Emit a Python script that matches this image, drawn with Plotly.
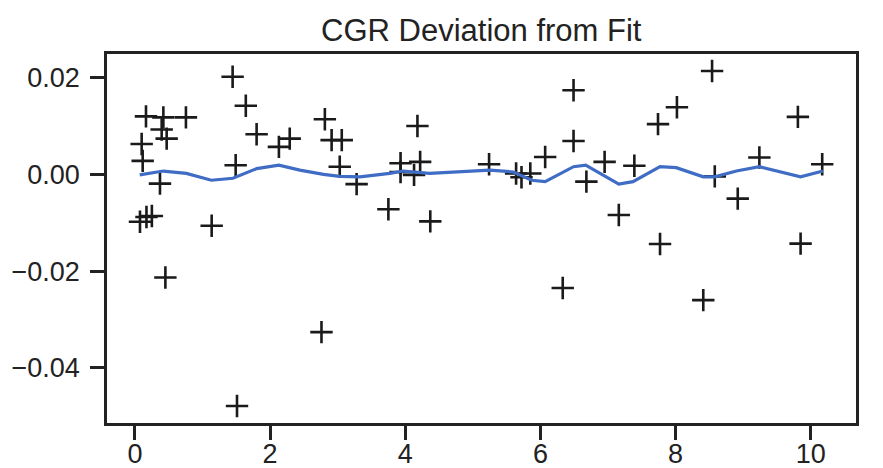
import plotly.graph_objects as go

# Scatter: deviation of each observation from the fit
pts_x = [0.074, 0.099, 0.114, 0.163, 0.17, 0.25, 0.37, 0.395, 0.42, 0.45, 0.469, 0.754,
         1.135, 1.445, 1.49, 1.51, 1.64, 1.80, 2.13, 2.29, 2.76, 2.81, 2.91, 3.03, 3.06,
         3.28, 3.75, 3.93, 3.93, 4.13, 4.18, 4.22, 4.37, 5.24, 5.64, 5.72, 5.85, 6.07,
         6.33, 6.49, 6.49, 6.68, 6.95, 7.16, 7.39, 7.74, 7.77, 8.02, 8.41, 8.54, 8.58,
         8.92, 9.24, 9.81, 9.85, 10.17]
pts_y = [-0.0098, 0.0063, 0.0028, 0.0120, -0.0088, -0.0086, -0.0019, 0.0093, 0.0118, -0.0213, 0.0074, 0.0118,
         -0.0106, 0.0202, 0.0019, -0.0479, 0.0142, 0.0083, 0.0057, 0.0074, -0.0326, 0.0114, 0.0071, 0.0016, 0.0071,
         -0.0020, -0.0072, 0.0023, 0.0005, -0.0001, 0.0100, 0.0026, -0.0097, 0.0021, 0.0002, -0.0006, 0.0002, 0.0036,
         -0.0235, 0.0174, 0.0069, -0.0015, 0.0026, -0.0084, 0.0018, 0.0104, -0.0144, 0.0139, -0.0260, 0.0214, -0.0004,
         -0.0050, 0.0035, 0.0119, -0.0143, 0.0021]

# Smoothed trend line
line_x = [0.07, 0.42, 0.76, 1.13, 1.45, 1.80, 2.13, 2.44, 2.79, 3.03, 3.33, 3.77, 3.97, 4.36,
          5.25, 5.60, 5.87, 6.07, 6.49, 6.67, 7.16, 7.37, 7.77, 8.01, 8.41, 8.58, 8.90, 9.24,
          9.85, 10.18]
line_y = [-0.0001, 0.0007, 0.0002, -0.0012, -0.0008, 0.0012, 0.0019, 0.0009, 0.0000, -0.0004,
          -0.0005, 0.0002, 0.0007, 0.0002, 0.0009, 0.0005, -0.0012, -0.0015, 0.0016, 0.0019,
          -0.0020, -0.0015, 0.0016, 0.0014, -0.0005, -0.0005, 0.0007, 0.0016, -0.0005, 0.0007]

x_ticks = [0, 2, 4, 6, 8, 10]
y_ticks = [-0.04, -0.02, 0.00, 0.02]
y_tick_labels = ["\u22120.04", "\u22120.02", "0.00", "0.02"]

title_text = "CGR Deviation from Fit"

fig = go.Figure()
fig.add_trace(go.Scatter(
    x=pts_x, y=pts_y, mode="markers",
    marker=dict(symbol="cross-thin", size=16, line=dict(color="#1a1a1a", width=2.6)),
    showlegend=False, hoverinfo="skip"))
fig.add_trace(go.Scatter(
    x=line_x, y=line_y, mode="lines",
    line=dict(color="#3f6cc4", width=3.2),
    showlegend=False, hoverinfo="skip"))

font_family = "Liberation Sans, Arial, sans-serif"
fig.update_layout(
    width=883, height=468,
    margin=dict(l=107, r=27, t=54, b=45, autoexpand=False),
    paper_bgcolor="white", plot_bgcolor="white",
    font=dict(family=font_family, color="#222222"),
    title=dict(text=title_text, x=0.545, xanchor="center", y=0.935, yanchor="middle",
               font=dict(size=31, family=font_family, color="#222222")),
)
axis_common = dict(
    showgrid=False, zeroline=False, showline=True, linecolor="#222222", linewidth=2.5,
    mirror=True, ticks="outside", ticklen=14, tickwidth=2.5, tickcolor="#222222",
    tickfont=dict(size=27, family=font_family, color="#222222"), automargin=False,
)
fig.update_xaxes(range=[-0.414, 10.67], tickvals=x_ticks, ticktext=[str(t) for t in x_ticks],
                 ticklabelstandoff=-9, **axis_common)
fig.update_yaxes(range=[-0.0514, 0.0249], tickvals=y_ticks, ticktext=y_tick_labels,
                 ticklabelstandoff=5, **axis_common)

fig.write_html("out.html", config={"displayModeBar": False},
               post_script="document.body.style.margin='0px';document.body.style.overflow='hidden';")
